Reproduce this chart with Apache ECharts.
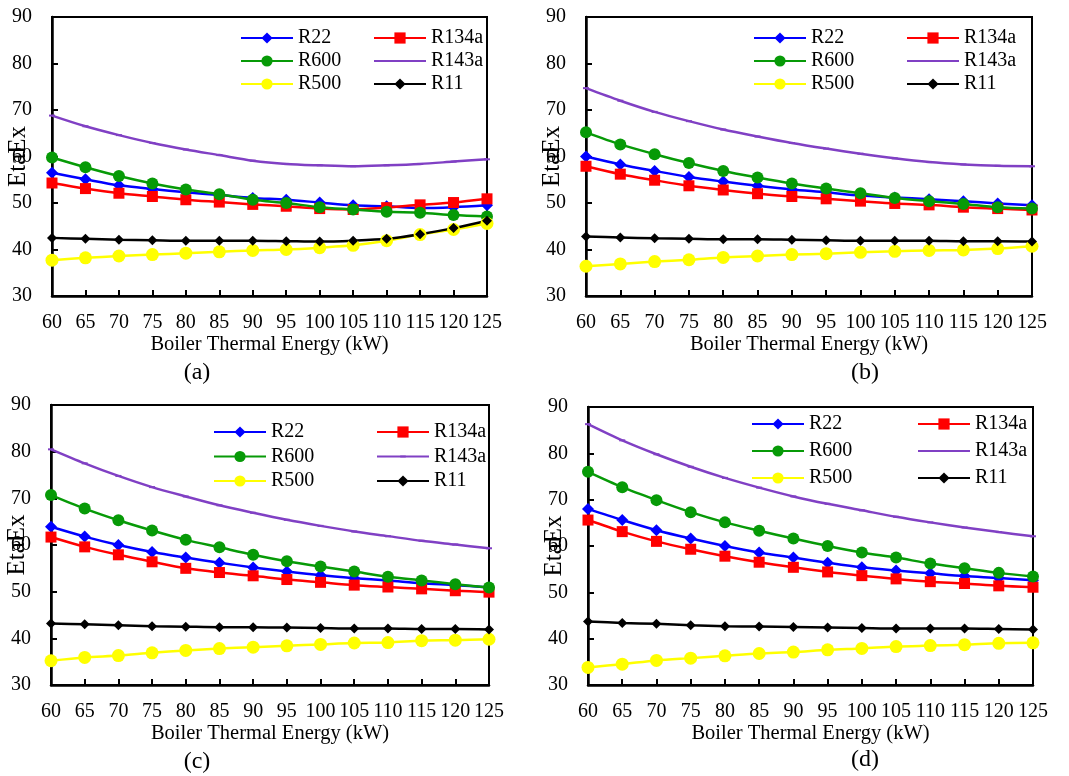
<!DOCTYPE html>
<html>
<head>
<meta charset="utf-8">
<script src="https://cdn.jsdelivr.net/npm/echarts@6/dist/echarts.min.js"></script>
<style>
    html, body {margin: 0; padding: 0; background: #fff;}
    #main {width: 1069px; height: 776px;}
</style>
</head>
<body>
<div id="main"></div>
<script>
// x categories: boiler thermal energy (kW)
const energy = ['60', '65', '70', '75', '80', '85', '90', '95', '100', '105', '110', '115', '120', '125'];

// panel (a)
const a_R22 = [56.5, 55.1, 53.8, 53.0, 52.3, 51.7, 51.1, 50.7, 50.1, 49.5, 49.3, 48.9, 49.1, 49.5];
const a_R134a = [54.3, 53.1, 52.1, 51.4, 50.7, 50.2, 49.7, 49.3, 48.8, 48.6, 49.0, 49.6, 50.1, 50.9];
const a_R600 = [59.8, 57.7, 55.8, 54.2, 52.9, 51.9, 50.7, 50.0, 49.1, 48.6, 48.1, 47.9, 47.4, 47.1];
const a_R143a = [68.8, 66.5, 64.6, 62.9, 61.5, 60.3, 59.1, 58.4, 58.1, 57.9, 58.1, 58.4, 58.9, 59.4];
const a_R500 = [37.7, 38.2, 38.6, 38.9, 39.2, 39.5, 39.8, 40.0, 40.4, 40.9, 41.9, 43.2, 44.3, 45.6];
const a_R11 = [42.5, 42.3, 42.1, 42.0, 41.9, 41.9, 41.9, 41.8, 41.7, 41.9, 42.3, 43.3, 44.6, 46.2];

// panel (b)
const b_R22 = [60.0, 58.3, 56.9, 55.6, 54.6, 53.7, 52.9, 52.3, 51.6, 51.2, 50.8, 50.4, 49.9, 49.5];
const b_R134a = [57.9, 56.2, 54.9, 53.7, 52.8, 52.0, 51.4, 50.9, 50.4, 49.9, 49.6, 49.1, 48.8, 48.5];
const b_R600 = [65.2, 62.6, 60.5, 58.6, 56.9, 55.5, 54.2, 53.1, 52.1, 51.1, 50.4, 49.8, 49.1, 48.8];
const b_R143a = [74.7, 72.0, 69.6, 67.6, 65.8, 64.3, 62.9, 61.7, 60.6, 59.6, 58.8, 58.3, 58.0, 57.9];
const b_R500 = [36.4, 36.9, 37.4, 37.8, 38.3, 38.6, 38.9, 39.1, 39.4, 39.6, 39.8, 39.9, 40.2, 40.7];
const b_R11 = [42.8, 42.6, 42.4, 42.3, 42.2, 42.2, 42.1, 42.0, 41.9, 41.9, 41.9, 41.8, 41.8, 41.7];

// panel (c)
const c_R22 = [63.9, 61.8, 60.0, 58.5, 57.3, 56.2, 55.2, 54.3, 53.5, 52.9, 52.4, 51.8, 51.4, 50.9];
const c_R134a = [61.7, 59.6, 57.9, 56.4, 55.0, 54.1, 53.4, 52.6, 52.0, 51.4, 51.0, 50.6, 50.2, 49.9];
const c_R600 = [70.7, 67.8, 65.3, 63.1, 61.1, 59.5, 57.9, 56.5, 55.4, 54.3, 53.2, 52.4, 51.6, 50.9];
const c_R143a = [80.5, 77.5, 74.8, 72.4, 70.4, 68.5, 66.9, 65.4, 64.1, 62.9, 61.9, 60.9, 60.1, 59.3];
const c_R500 = [35.2, 35.9, 36.3, 36.9, 37.4, 37.8, 38.1, 38.4, 38.7, 39.0, 39.1, 39.5, 39.6, 39.8];
const c_R11 = [43.2, 43.0, 42.8, 42.6, 42.5, 42.4, 42.4, 42.3, 42.2, 42.1, 42.1, 42.0, 42.0, 41.9];

// panel (d)
const d_R22 = [68.0, 65.6, 63.4, 61.6, 60.0, 58.6, 57.5, 56.4, 55.4, 54.7, 54.1, 53.5, 53.1, 52.6];
const d_R134a = [65.6, 63.1, 61.0, 59.3, 57.8, 56.5, 55.4, 54.4, 53.6, 52.9, 52.3, 51.9, 51.4, 51.1];
const d_R600 = [76.0, 72.7, 69.9, 67.3, 65.1, 63.3, 61.6, 60.0, 58.6, 57.5, 56.2, 55.2, 54.2, 53.4];
const d_R143a = [86.3, 82.8, 79.8, 77.1, 74.7, 72.6, 70.7, 69.1, 67.7, 66.3, 65.1, 64.0, 63.0, 62.1];
const d_R500 = [33.8, 34.5, 35.3, 35.8, 36.3, 36.8, 37.1, 37.6, 37.9, 38.3, 38.5, 38.7, 39.0, 39.1];
const d_R11 = [43.7, 43.4, 43.2, 42.9, 42.7, 42.6, 42.5, 42.4, 42.3, 42.2, 42.2, 42.2, 42.1, 42.0];

const fluids = ['R22', 'R134a', 'R600', 'R143a', 'R500', 'R11'];

// small dash marker (extra moveTo points keep the box square)
const dashMark = 'path://M0,0M12,12M3,5h6v2h-6z';

const fluidStyle = {
    R22: {color: '#0000FF', symbol: 'diamond', size: 12},
    R134a: {color: '#FF0000', symbol: 'rect', size: 11},
    R600: {color: '#079A07', symbol: 'circle', size: 12},
    R143a: {color: '#8040C4', symbol: dashMark, size: 12},
    R500: {color: '#FFFF00', symbol: 'circle', size: 13},
    R11: {color: '#000000', symbol: 'diamond', size: 10}
};

const panels = [
    {caption: '(a)', data: [a_R22, a_R134a, a_R600, a_R143a, a_R500, a_R11],
        grid: {left: 52, top: 17, width: 435, height: 279},
        legendX: [240, 373], legendY: 28, legendGap: 3, capX: 197, capY: 373},
    {caption: '(b)', data: [b_R22, b_R134a, b_R600, b_R143a, b_R500, b_R11],
        grid: {left: 586, top: 17, width: 446, height: 279},
        legendX: [753, 906], legendY: 28, legendGap: 3, capX: 865, capY: 373},
    {caption: '(c)', data: [c_R22, c_R134a, c_R600, c_R143a, c_R500, c_R11],
        grid: {left: 51, top: 405, width: 438, height: 280},
        legendX: [213, 376], legendY: 422, legendGap: 4.5, capX: 197, capY: 762},
    {caption: '(d)', data: [d_R22, d_R134a, d_R600, d_R143a, d_R500, d_R11],
        grid: {left: 588, top: 407, width: 445, height: 278},
        legendX: [751, 917], legendY: 414, legendGap: 7, capX: 865, capY: 760}
];

const serif = '"Liberation Serif", "Times New Roman", serif';

const option = {
    animation: false,
    textStyle: {fontFamily: serif, color: '#000'},
    grid: [], xAxis: [], yAxis: [], series: [], legend: [], graphic: []
};

panels.forEach(function (p, k) {
    option.grid.push(Object.assign({show: true, borderColor: '#000', borderWidth: 2}, p.grid));
    option.xAxis.push({
        type: 'category', gridIndex: k, data: energy, boundaryGap: false,
        name: 'Boiler Thermal Energy (kW)', nameLocation: 'middle', nameGap: 34,
        nameTextStyle: {fontSize: 20.5, fontFamily: serif, color: '#000'},
        axisLine: {lineStyle: {color: '#000', width: 2.5}},
        axisTick: {inside: true, length: 6, lineStyle: {width: 2}, alignWithLabel: true},
        axisLabel: {interval: 0, margin: 17, fontSize: 20, fontFamily: serif, color: '#000', hideOverlap: false},
        splitLine: {show: false}
    });
    option.yAxis.push({
        type: 'value', gridIndex: k, min: 30, max: 90, interval: 10,
        name: 'EtaEx', nameLocation: 'middle', nameGap: 21, nameRotate: 90,
        nameMoveOverlap: false,
        nameTextStyle: {fontSize: 25, fontFamily: serif, color: '#000'},
        axisLine: {show: true, lineStyle: {color: '#000', width: 2.5}},
        axisTick: {show: true, inside: true, length: 6, lineStyle: {width: 2}},
        axisLabel: {margin: 20, fontSize: 20, fontFamily: serif, color: '#000'},
        splitLine: {show: false}
    });
    fluids.forEach(function (f, i) {
        const st = fluidStyle[f];
        option.series.push({
            name: f, type: 'line', xAxisIndex: k, yAxisIndex: k,
            data: p.data[i], smooth: 0.3,
            symbol: st.symbol, symbolSize: st.size, showSymbol: true,
            lineStyle: {color: st.color, width: 2.5},
            itemStyle: {color: st.color},
            emphasis: {disabled: true}
        });
    });
    // two legend columns per panel
    [[0, 2, 4], [1, 3, 5]].forEach(function (col, c) {
        option.legend.push({
            orient: 'vertical', left: p.legendX[c], top: p.legendY,
            padding: 0, itemGap: p.legendGap, itemWidth: 52, itemHeight: 14,
            selectedMode: false,
            data: col.map(function (i) { return fluids[i]; }),
            textStyle: {fontSize: 20, lineHeight: 20, fontFamily: serif, color: '#000'}
        });
    });
    option.graphic.push({
        type: 'text', x: p.capX, y: p.capY,
        style: {text: p.caption, font: '24px ' + serif, fill: '#000', align: 'center', verticalAlign: 'middle'}
    });
});

const myChart = echarts.init(document.getElementById('main'));
myChart.setOption(option);
</script>
</body>
</html>
